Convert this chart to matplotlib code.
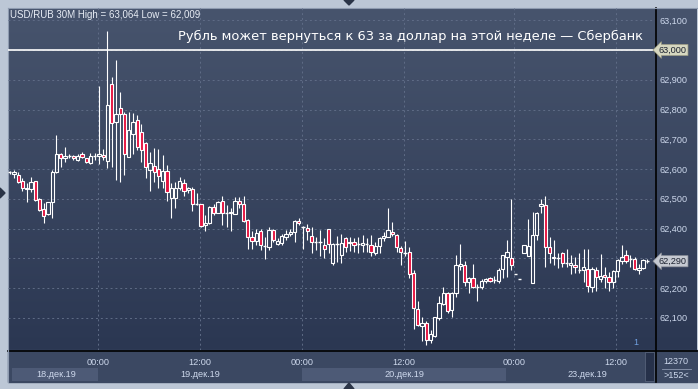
import numpy as np
import matplotlib
matplotlib.use("Agg")
from matplotlib import pyplot as plt
from matplotlib.patches import Rectangle, Polygon
from matplotlib.transforms import blended_transform_factory

# USD/RUB 30M candles (oldest first)
opens = [
    62.590, 62.583, 62.580, 62.560, 62.532, 62.532, 62.560, 62.499, 62.466, 62.448,
    62.488, 62.591, 62.649, 62.638, 62.644, 62.645, 62.631, 62.649, 62.636, 62.619,
    62.645, 62.644, 62.647, 62.627, 62.885, 62.757, 62.804, 62.784, 62.641, 62.717,
    62.765, 62.723, 62.686, 62.597, 62.610, 62.599, 62.560, 62.593, 62.504, 62.504,
    62.535, 62.552, 62.530, 62.532, 62.482, 62.481, 62.412, 62.418, 62.471, 62.451,
    62.493, 62.453, 62.451, 62.449, 62.493, 62.482, 62.428, 62.370, 62.359, 62.393,
    62.342, 62.339, 62.395, 62.348, 62.350, 62.373, 62.382, 62.389, 62.426, 62.406,
    62.401, 62.375, 62.353, 62.356, 62.345, 62.397, 62.283, 62.348, 62.311, 62.367,
    62.350, 62.355, 62.348, 62.346, 62.348, 62.346, 62.319, 62.341, 62.367, 62.373,
    62.389, 62.378, 62.336, 62.319, 62.320, 62.249, 62.128, 62.071, 62.081, 62.026,
    62.039, 62.100, 62.146, 62.182, 62.126, 62.184, 62.274, 62.277, 62.221, 62.232,
    62.204, 62.204, 62.223, 62.232, 62.226, 62.223, 62.263, 62.303, 62.300, 62.246,
    62.229, 62.319, 62.308, 62.216, 62.378, 62.476, 62.479, 62.337, 62.300, 62.302,
    62.319, 62.283, 62.276, 62.277, 62.259, 62.259, 62.263, 62.204, 62.261, 62.230,
    62.244, 62.237, 62.221, 62.256, 62.292, 62.310, 62.296, 62.299, 62.259, 62.266,
    62.290]
highs = [
    62.594, 62.597, 62.591, 62.571, 62.552, 62.574, 62.560, 62.501, 62.485, 62.490,
    62.597, 62.714, 62.653, 62.673, 62.650, 62.647, 62.649, 62.658, 62.638, 62.655,
    62.655, 62.879, 62.667, 63.064, 62.910, 62.966, 62.860, 62.790, 62.790, 62.787,
    62.782, 62.750, 62.690, 62.658, 62.672, 62.667, 62.647, 62.613, 62.552, 62.557,
    62.572, 62.566, 62.541, 62.538, 62.518, 62.484, 62.446, 62.476, 62.484, 62.493,
    62.509, 62.479, 62.468, 62.507, 62.507, 62.509, 62.431, 62.393, 62.397, 62.397,
    62.373, 62.404, 62.400, 62.367, 62.381, 62.395, 62.397, 62.428, 62.434, 62.408,
    62.415, 62.404, 62.370, 62.395, 62.367, 62.397, 62.350, 62.375, 62.382, 62.370,
    62.370, 62.367, 62.370, 62.378, 62.367, 62.378, 62.353, 62.373, 62.389, 62.468,
    62.421, 62.382, 62.341, 62.359, 62.339, 62.261, 62.157, 62.104, 62.088, 62.058,
    62.104, 62.173, 62.202, 62.188, 62.188, 62.311, 62.348, 62.291, 62.238, 62.280,
    62.213, 62.229, 62.235, 62.238, 62.240, 62.266, 62.311, 62.363, 62.498, 62.246,
    62.229, 62.345, 62.431, 62.457, 62.457, 62.498, 62.509, 62.373, 62.361, 62.319,
    62.322, 62.330, 62.311, 62.305, 62.316, 62.330, 62.330, 62.272, 62.270, 62.314,
    62.270, 62.253, 62.259, 62.296, 62.345, 62.328, 62.311, 62.303, 62.280, 62.299,
    62.297]
lows = [
    62.584, 62.571, 62.552, 62.527, 62.488, 62.524, 62.492, 62.459, 62.417, 62.445,
    62.434, 62.585, 62.608, 62.625, 62.638, 62.630, 62.627, 62.636, 62.619, 62.616,
    62.630, 62.616, 62.630, 62.604, 62.608, 62.563, 62.555, 62.580, 62.641, 62.649,
    62.664, 62.625, 62.571, 62.527, 62.555, 62.535, 62.537, 62.492, 62.434, 62.468,
    62.530, 62.509, 62.518, 62.460, 62.479, 62.404, 62.390, 62.415, 62.446, 62.451,
    62.412, 62.404, 62.390, 62.449, 62.468, 62.423, 62.330, 62.330, 62.345, 62.328,
    62.296, 62.328, 62.356, 62.345, 62.345, 62.361, 62.375, 62.356, 62.412, 62.330,
    62.361, 62.317, 62.328, 62.308, 62.300, 62.317, 62.277, 62.289, 62.283, 62.322,
    62.325, 62.322, 62.319, 62.322, 62.322, 62.308, 62.311, 62.317, 62.359, 62.373,
    62.375, 62.322, 62.277, 62.308, 62.235, 62.061, 62.072, 62.023, 62.009, 62.015,
    62.035, 62.094, 62.142, 62.115, 62.101, 62.171, 62.261, 62.207, 62.182, 62.199,
    62.157, 62.195, 62.218, 62.221, 62.218, 62.218, 62.233, 62.237, 62.261, 62.246,
    62.229, 62.319, 62.308, 62.216, 62.363, 62.451, 62.270, 62.285, 62.277, 62.266,
    62.272, 62.270, 62.247, 62.249, 62.252, 62.221, 62.188, 62.188, 62.191, 62.221,
    62.200, 62.191, 62.200, 62.237, 62.281, 62.285, 62.270, 62.259, 62.247, 62.263,
    62.283]
closes = [
    62.591, 62.591, 62.555, 62.535, 62.537, 62.555, 62.496, 62.462, 62.443, 62.488,
    62.591, 62.649, 62.636, 62.645, 62.645, 62.636, 62.645, 62.640, 62.622, 62.645,
    62.645, 62.650, 62.639, 62.815, 62.754, 62.784, 62.784, 62.649, 62.731, 62.757,
    62.675, 62.664, 62.608, 62.621, 62.591, 62.578, 62.593, 62.524, 62.535, 62.535,
    62.560, 62.527, 62.535, 62.482, 62.481, 62.408, 62.420, 62.471, 62.453, 62.490,
    62.451, 62.453, 62.457, 62.493, 62.482, 62.426, 62.373, 62.359, 62.386, 62.345,
    62.341, 62.395, 62.361, 62.358, 62.375, 62.382, 62.389, 62.426, 62.417, 62.406,
    62.393, 62.356, 62.353, 62.356, 62.331, 62.348, 62.348, 62.348, 62.350, 62.339,
    62.355, 62.345, 62.348, 62.352, 62.348, 62.322, 62.341, 62.367, 62.375, 62.395,
    62.380, 62.337, 62.320, 62.319, 62.246, 62.132, 62.076, 62.081, 62.026, 62.045,
    62.101, 62.148, 62.182, 62.124, 62.182, 62.277, 62.280, 62.221, 62.235, 62.202,
    62.204, 62.223, 62.230, 62.223, 62.226, 62.260, 62.311, 62.322, 62.277, 62.246,
    62.229, 62.345, 62.341, 62.378, 62.451, 62.482, 62.339, 62.319, 62.305, 62.302,
    62.283, 62.283, 62.283, 62.270, 62.259, 62.270, 62.207, 62.263, 62.237, 62.240,
    62.237, 62.221, 62.256, 62.294, 62.305, 62.292, 62.296, 62.263, 62.266, 62.294,
    62.290]

price_ticks = [62.1, 62.2, 62.3, 62.4, 62.5, 62.6, 62.7, 62.8, 62.9, 63.0, 63.1]
time_ticks = [20.7, 44.7, 68.7, 92.7, 118.7, 142.7]   # bar index of each time line
time_labels = ['00:00', '12:00', '00:00', '12:00', '00:00', '12:00']
day_labels = ['18.дек.19', '19.дек.19', '20.дек.19', '23.дек.19']
day_centers = [10.9, 44.7, 92.8, 135.8]
day_starts = [0.5, 20.7, 68.7, 116.8]
day_ends = [20.7, 68.7, 116.8, 149.0]
day_shaded = [True, False, True, False]
level = 63.0
last_price = 62.290
title = 'Рубль может вернуться к 63 за доллар на этой неделе — Сбербанк'
header = 'USD/RUB 30M High = 63,064 Low = 62,009'

W, H = 698, 389
LBL = '#cdd8ec'
RED = '#e5123f'
plt.rcParams['font.family'] = ['Liberation Sans', 'DejaVu Sans']

fig = plt.figure(figsize=(W / 100, H / 100), dpi=100)
fig.patch.set_facecolor('#bcc7d6')

# frame / panels in pixel coordinates
bg = fig.add_axes([0, 0, 1, 1])
bg.set_xlim(0, W)
bg.set_ylim(H, 0)
bg.axis('off')
t = np.linspace(0, 1, 256)[:, None, None]
top = np.array([0x47, 0x54, 0x6d]) / 255
bot = np.array([0x2b, 0x37, 0x52]) / 255
grad = top * (1 - t) + bot * t
bg.imshow(grad, extent=(8, 697, 350, 8), origin='upper', aspect='auto', zorder=1)
bg.add_patch(Rectangle((8, 350), 689, 32, color='#3b4862', zorder=1))
bg.plot([8, 697], [350.5, 350.5], color='black', lw=1.2, zorder=3)
bg.plot([655.5, 655.5], [8, 382], color='black', lw=1.2, zorder=3)
bg.plot([8, 697], [7.5, 7.5], color='#8e9bb0', lw=0.8, zorder=3)
bg.plot([7.5, 7.5], [8, 382], color='#8e9bb0', lw=0.8, zorder=3)
# scrollbar stub and volume box
bg.add_patch(Rectangle((645, 352), 9, 29, fc='#26314a', ec='#56627a', lw=0.6, zorder=3))
bg.text(676, 362, '12370', ha='center', va='center', fontsize=6.5, color=LBL, zorder=4)
bg.plot([662, 691], [369, 369], color='#8d99b0', lw=0.6, zorder=4)
bg.text(676, 375.5, '>152<', ha='center', va='center', fontsize=6.5, color=LBL, zorder=4)
bg.text(636, 347, '1', ha='center', va='bottom', fontsize=6.5, color='#6f9fe0', zorder=4)
# navigation triangles
bg.add_patch(Polygon([[344, 0], [354, 0], [349, 5]], color='#2a3447', zorder=4))
bg.add_patch(Polygon([[344, 389], [354, 389], [349, 383]], color='#2a3447', zorder=4))
bg.add_patch(Polygon([[0, 188], [0, 198], [5, 193]], color='#2a3447', zorder=4))

# main price axes
ax = fig.add_axes([8 / W, 1 - 350 / H, 647 / W, 342 / H])
ax.patch.set_alpha(0)
ax.set_xlim(-0.4, 151.8)
ax.set_ylim(61.9916, 63.1412)
for s in ax.spines.values():
    s.set_visible(False)
ax.set_yticks(price_ticks)
# labels under the two price flags are hidden, as in the terminal
tick_text = []
for v in price_ticks:
    if abs(v - level) < 0.05 or abs(v - last_price) < 0.05:
        tick_text.append('')
    else:
        tick_text.append(f'{v:.3f}'.replace('.', ','))
ax.set_yticklabels(tick_text)
ax.yaxis.tick_right()
ax.set_xticks(time_ticks)
ax.tick_params(axis='x', labelbottom=False, length=0)
ax.tick_params(axis='y', length=0, pad=3, labelsize=6.6, labelcolor=LBL)
ax.grid(color='#5f6c86', ls=(0, (2, 3)), lw=0.7)
ax.set_axisbelow(True)

ax.axhline(level, color='white', lw=1.2, zorder=2)

bw = 0.78
for i, (o, h, l, c) in enumerate(zip(opens, highs, lows, closes)):
    lo_b, hi_b = min(o, c), max(o, c)
    if hi_b - lo_b < 0.0025:
        ax.vlines(i, l, h, color='white', lw=0.8, zorder=3)
        ax.hlines((o + c) / 2, i - bw / 2, i + bw / 2, color='white', lw=1.0, zorder=3)
        continue
    ax.vlines(i, hi_b, h, color='white', lw=0.8, zorder=3)
    ax.vlines(i, l, lo_b, color='white', lw=0.8, zorder=3)
    fc = RED if c < o else 'none'
    ax.add_patch(Rectangle((i - bw / 2, lo_b), bw, hi_b - lo_b, fc=fc, ec='white',
                           lw=0.8, zorder=4))

yb = blended_transform_factory(ax.transAxes, ax.transData)
ax.text(1.006, level, '63,000', transform=yb, ha='left', va='center', fontsize=6.6,
        color='#1c2230', zorder=6, clip_on=False,
        bbox=dict(boxstyle='larrow,pad=0.12', fc='#d6d7c0', ec='#9a9a82', lw=0.5))
ax.text(1.006, last_price, '62,290', transform=yb, ha='left', va='center', fontsize=6.6,
        color='#1c2230', zorder=6, clip_on=False,
        bbox=dict(boxstyle='larrow,pad=0.12', fc='#c5c9d1', ec='#8d919a', lw=0.5))

# time axis panel sharing the bar index scale
axb = fig.add_axes([8 / W, 1 - 382 / H, 647 / W, 31 / H], sharex=ax)
axb.patch.set_alpha(0)
axb.set_ylim(0, 1)
axb.axis('off')
for x0, x1, sh in zip(day_starts, day_ends, day_shaded):
    if sh:
        axb.add_patch(Rectangle((x0, 0.03), x1 - x0, 0.42, color='#4d5a76', lw=0))
for x, lab in zip(time_ticks, time_labels):
    axb.text(x, 0.64, lab, ha='center', va='center', fontsize=6.6, color=LBL)
for x, lab in zip(day_centers, day_labels):
    axb.text(x, 0.24, lab, ha='center', va='center', fontsize=6.6, color=LBL)

fig.text(10 / W, 1 - 15 / H, header, ha='left', va='center', fontsize=7.0, color='#e8edf5')
fig.text(643 / W, 1 - 36 / H, title, ha='right', va='center', fontsize=9.4,
         color='white', family=['DejaVu Sans'])

fig.savefig('out.png', dpi=100)
